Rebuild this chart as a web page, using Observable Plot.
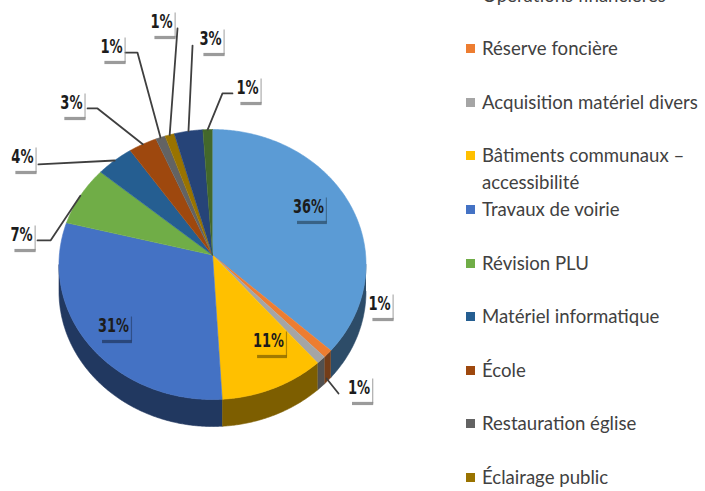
<!DOCTYPE html>
<html><head><meta charset="utf-8">
<script src="https://cdn.jsdelivr.net/npm/d3@7"></script>
<script src="https://cdn.jsdelivr.net/npm/@observablehq/plot@0.6"></script>
<style>
html,body{margin:0;padding:0;background:#fff;overflow:hidden;width:705px;height:491px}
#wrap{position:relative;width:705px;height:491px;overflow:hidden}
#legend{position:absolute;left:0;top:0;width:705px;height:491px;pointer-events:none;font-family:Lato,"Open Sans",sans-serif;color:#414141}
.item{position:absolute;left:466px;display:flex;align-items:flex-start;font-size:18.6px;line-height:27px}
.sw{width:9px;height:9px;margin-top:9px;margin-right:7px;flex:none}
.tx{max-width:232px;white-space:normal}
</style></head><body><div id="wrap"><div id="chart"></div><div id="legend"></div></div>
<script>
// ---- data ----
// legend names visible in the picture (the last two slices' legend entries fall outside it)
const categories = ["Opérations financières","Réserve foncière","Acquisition matériel divers","Bâtiments communaux – accessibilité","Travaux de voirie","Révision PLU","Matériel informatique","École","Restauration église","Éclairage public"];
const shares = [36,1,1,11,31,7,4,3,1,1,3,1];
const colors = ["#5B9BD5","#ED7D31","#A5A5A5","#FFC000","#4472C4","#70AD47","#255E91","#9E480E","#636363","#997300","#264478","#43682B"];
const valueLabels = ["36%","1%","1%","11%","31%","7%","4%","3%","1%","1%","3%","1%"];

// ---- layout of data labels (pie unit coordinates) ----
const labelAt = [[0.625,-0.43],[1.088,0.289],[0.955,0.911],[0.365,0.563],[-0.645,0.452],[-1.244,-0.222],[-1.238,-0.8],[-0.919,-1.2],[-0.658,-1.615],[-0.332,-1.8],[-0.013,-1.674],[0.228,-1.311]];
const inside = [true,false,false,true,true,false,false,false,false,false,false,false];
const leaderFrom = [null,null,[0.821,0.956],null,null,[-1.14,-0.178],[-1.134,-0.741],[-0.814,-1.156],[-0.567,-1.57],[-0.228,-1.748],[-0.13,-1.622],[0.13,-1.267]];
const leaderElbow = [null,null,null,null,null,[-1.055,-0.178],null,[-0.749,-1.156],[-0.489,-1.57],null,null,[0.065,-1.267]];
const leaderTo = [null,null,[0.743,0.844],null,null,null,null,null,null,null,null,null];

const CX=212, CY=264, RX=153.5, RY=135;
const DEPTH=0.2, VERTEXV=-0.07;
const rad = d => d*Math.PI/180;
const rim = (deg, dv=0) => ({u: Math.sin(rad(deg)), v: -Math.cos(rad(deg)) + dv});

const total = d3.sum(shares);
let acc = 0;
const slices = shares.map((s,i) => { const a = acc/total*360; acc += s; const b = acc/total*360; return {i, a, b, mid:(a+b)/2, color:colors[i]}; });

function arcPts(a,b,dv=0){ const n=Math.max(2,Math.ceil((b-a)/0.5)); return d3.range(n+1).map(k=>rim(a+(b-a)*k/n,dv)); }

const marks = [];
// side walls (front half only)
slices.forEach(sl => {
  const a = Math.max(sl.a,90), b = Math.min(sl.b,270);
  if (b<=a) return;
  const pts = arcPts(a,b).concat(arcPts(a,b,DEPTH).reverse());
  const c = d3.color(sl.color).darker(2).formatHex();
  marks.push(Plot.line(pts,{x:"u",y:"v",fill:c,stroke:c,strokeWidth:0.6}));
});
// top faces
slices.forEach(sl => {
  const pts = [{u:0,v:VERTEXV}].concat(arcPts(sl.a,sl.b));
  marks.push(Plot.line(pts,{x:"u",y:"v",fill:sl.color,stroke:sl.color,strokeWidth:0.6}));
});
// leader lines
const leaders = [];
slices.forEach(sl => {
  const f = leaderFrom[sl.i]; if(!f) return;
  const pts=[{u:f[0],v:f[1],k:sl.i}];
  const e = leaderElbow[sl.i]; if(e) pts.push({u:e[0],v:e[1],k:sl.i});
  const t = leaderTo[sl.i]; const end = t ? {u:t[0],v:t[1]} : rim(sl.mid);
  pts.push({u:end.u,v:end.v,k:sl.i});
  leaders.push(...pts);
});
marks.push(Plot.line(leaders,{x:"u",y:"v",z:"k",stroke:"#3f3f3f",strokeWidth:1.8}));

// label boxes (shadow bar + right edge)
const pxU = p => p/RX, pxV = p => p/RY;
const labels = slices.map(sl => {
  const t = valueLabels[sl.i];
  const w = (t.length-1)*8.7 + 13.5;
  const [u,v] = labelAt[sl.i];
  const shade = inside[sl.i] ? d3.color(sl.color).darker(1.6).formatHex() : "#8a8a8a";
  return {t,u,v,w,shade};
});
marks.push(Plot.link(labels,{x1:d=>d.u+pxU(-d.w/2+4),x2:d=>d.u+pxU(d.w/2+3),y1:d=>d.v+pxV(16),y2:d=>d.v+pxV(16),stroke:d=>d.shade,strokeWidth:3.2,strokeOpacity:0.85}));
marks.push(Plot.link(labels,{x1:d=>d.u+pxU(d.w/2+2.5),x2:d=>d.u+pxU(d.w/2+2.5),y1:d=>d.v+pxV(-9),y2:d=>d.v+pxV(16),stroke:d=>d.shade,strokeWidth:1.2,strokeOpacity:0.7}));
marks.push(Plot.text(labels,{x:"u",y:"v",text:"t",fontSize:19,fontWeight:"bold",fill:"#1c1c1c",fontFamily:"'Liberation Sans Narrow','DejaVu Sans Condensed',Roboto,sans-serif"}));

const chart = Plot.plot({
  width:705, height:491, margin:0,
  x:{domain:[-1,1], range:[CX-RX, CX+RX], axis:null},
  y:{domain:[-1,1], range:[CY-RY, CY+RY], axis:null},
  style:{background:"transparent"},
  marks
});
// condense the bold value labels to the narrow widths of the original
chart.querySelectorAll('g[aria-label="text"] text').forEach((el,i) => {
  if (!labels[i]) return;
  el.setAttribute("textLength", labels[i].w.toFixed(1));
  el.setAttribute("lengthAdjust", "spacingAndGlyphs");
});
document.getElementById("chart").appendChild(chart);

// legend
const legend = document.getElementById("legend");
categories.forEach((c,i) => {
  const it = document.createElement("div");
  it.className="item";
  it.style.top = (-18.5 + 53.6*i) + "px";
  it.innerHTML = `<span class="sw" style="background:${colors[i]}"></span><span class="tx">${c}</span>`;
  legend.appendChild(it);
});
</script></body></html>
